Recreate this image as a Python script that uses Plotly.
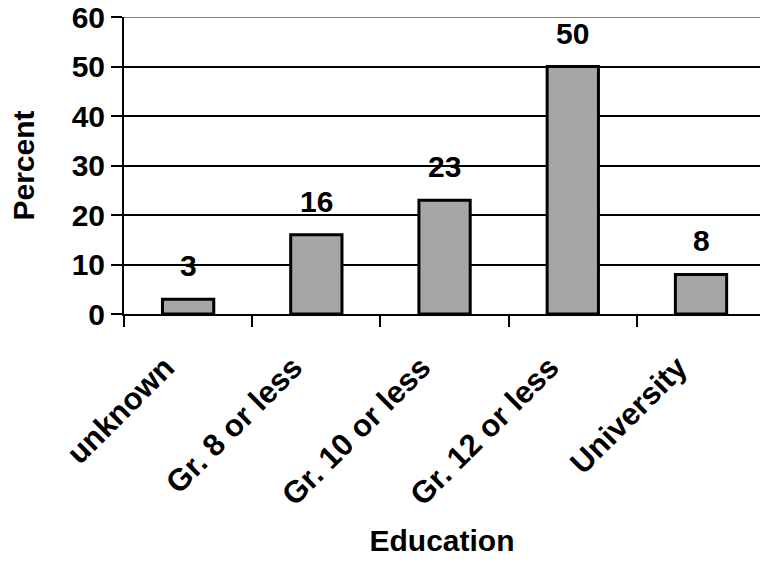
import plotly.graph_objects as go

categories = ["unknown", "Gr. 8 or less", "Gr. 10 or less", "Gr. 12 or less", "University"]
percent = [3, 16, 23, 50, 8]
y_ticks = [0, 10, 20, 30, 40, 50, 60]

FONT = "Liberation Sans, Arial, Helvetica, sans-serif"

fig = go.Figure()
fig.add_trace(go.Bar(
    x=categories, y=percent, width=0.4,
    marker=dict(color="#a6a6a6", line=dict(color="black", width=3)),
    showlegend=False, hoverinfo="skip",
))

for c, v in zip(categories, percent):
    fig.add_annotation(x=c, y=v, text=str(v), showarrow=False, yanchor="bottom",
                       yshift=15, font=dict(family=FONT, size=30, color="black", weight="bold"))

# thin border line along the top of the plot area (at the top tick value)
fig.add_shape(type="line", xref="paper", x0=0, x1=1, yref="y",
              y0=y_ticks[-1], y1=y_ticks[-1], line=dict(color="#555555", width=1.5))

fig.update_layout(
    width=760, height=565,
    margin=dict(l=124, r=0, t=17, b=251),
    plot_bgcolor="white", paper_bgcolor="white",
    font=dict(family=FONT, size=30, color="black", weight="bold"),
)
fig.update_xaxes(
    range=[-0.5, 4.46], tickson="boundaries", ticks="outside", ticklen=11, tickwidth=2,
    tickcolor="black", showline=True, linewidth=2, linecolor="black", showgrid=False,
    tickangle=-45, tickfont=dict(family=FONT, size=31, weight="bold"),
    ticklabelshift=-23, ticklabelstandoff=21,
    title=dict(text="Education", font=dict(family=FONT, size=30, weight="bold"), standoff=19),
    automargin=False,
)
fig.update_yaxes(
    range=[0, 60], tickvals=y_ticks, ticks="outside", ticklen=11, tickwidth=2, tickcolor="black",
    showline=True, linewidth=2, linecolor="black", showgrid=True, gridcolor="black", gridwidth=2,
    zeroline=False, tickfont=dict(family=FONT, size=30, weight="bold"),
    ticklabeloverflow="allow",
    title=dict(text="Percent", font=dict(family=FONT, size=30, weight="bold"), standoff=28),
    automargin=False,
)

fig.write_html("out.html", config={"displayModeBar": False},
               post_script="document.body.style.margin='0';")
